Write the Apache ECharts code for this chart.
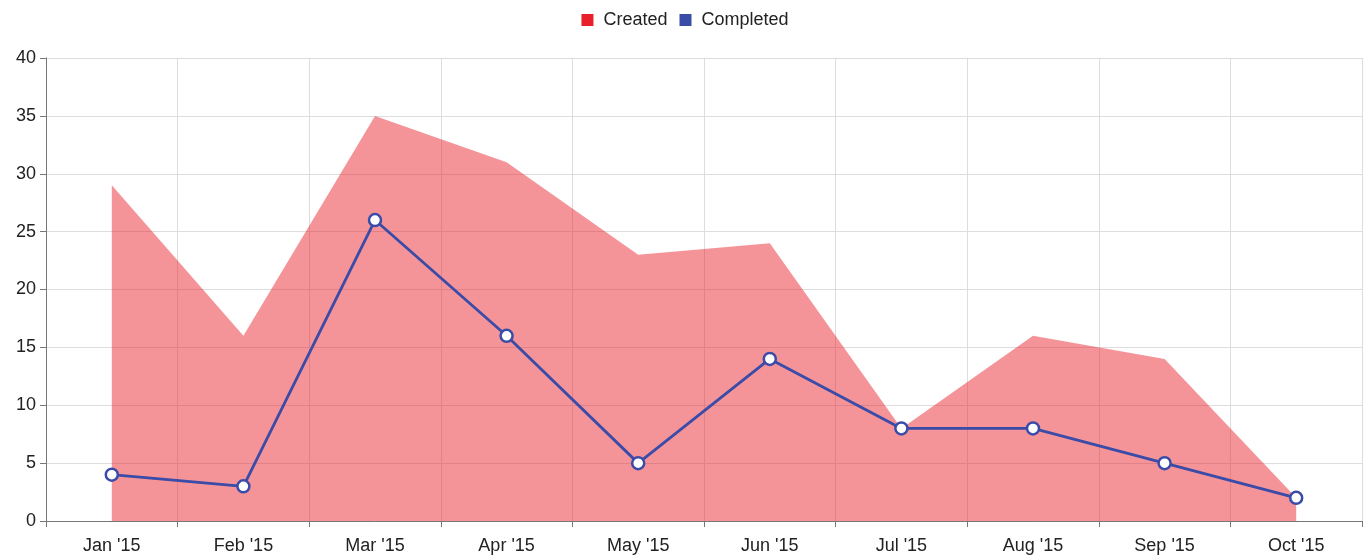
<!DOCTYPE html>
<html><head><meta charset="utf-8">
<script src="https://cdn.jsdelivr.net/npm/echarts@6/dist/echarts.min.js"></script>
<style>html,body{margin:0;padding:0;background:#fff}#c{width:1370px;height:560px}</style>
</head><body><div id="c"></div>
<script>
const categories = ["Jan '15","Feb '15","Mar '15","Apr '15","May '15","Jun '15","Jul '15","Aug '15","Sep '15","Oct '15"];
const created = [29,16,35,31,23,24,8,16,14,2];
const completed = [4,3,26,16,5,14,8,8,5,2];
const yTicks = {min:0,max:40,interval:5};

const chart = echarts.init(document.getElementById('c'));
const font = 'Liberation Sans, Arial, sans-serif';
chart.setOption({
  animation:false,
  textStyle:{fontFamily:font},
  legend:{top:6,left:'center',itemWidth:12,itemHeight:12,itemGap:12,icon:'rect',
    textStyle:{fontSize:18,color:'#222',fontFamily:font,padding:[0,0,0,5]},
    data:[
      {name:'Created',itemStyle:{color:'#e8202a',borderWidth:0}},
      {name:'Completed',itemStyle:{color:'#3a4ba8',borderWidth:0}}]},
  grid:{left:46,right:8,top:58,bottom:39},
  xAxis:{type:'category',data:categories,boundaryGap:true,
    axisLine:{lineStyle:{color:'#777',width:1}},
    axisTick:{show:true,length:6,lineStyle:{color:'#777'}},
    axisLabel:{fontSize:18,color:'#222',margin:16,fontFamily:font},
    splitLine:{show:true,lineStyle:{color:'#ddd',width:1}}},
  yAxis:{type:'value',min:yTicks.min,max:yTicks.max,interval:yTicks.interval,
    axisLine:{show:true,lineStyle:{color:'#777',width:1}},
    axisTick:{show:true,length:6,lineStyle:{color:'#777'}},
    axisLabel:{fontSize:18,color:'#222',margin:10,fontFamily:font},
    splitLine:{show:true,lineStyle:{color:'#ddd',width:1}}},
  series:[
    {name:'Created',type:'line',data:created,symbol:'none',z:1,
      itemStyle:{color:'#e8202a'},
      lineStyle:{width:0},
      areaStyle:{color:'#e8202a',opacity:0.48}},
    {name:'Completed',type:'line',data:completed,symbol:'circle',symbolSize:12,z:3,
      itemStyle:{color:'#fff',borderColor:'#3a4ba8',borderWidth:2.5},
      lineStyle:{color:'#3a4ba8',width:2.8}}
  ]
});
</script></body></html>
